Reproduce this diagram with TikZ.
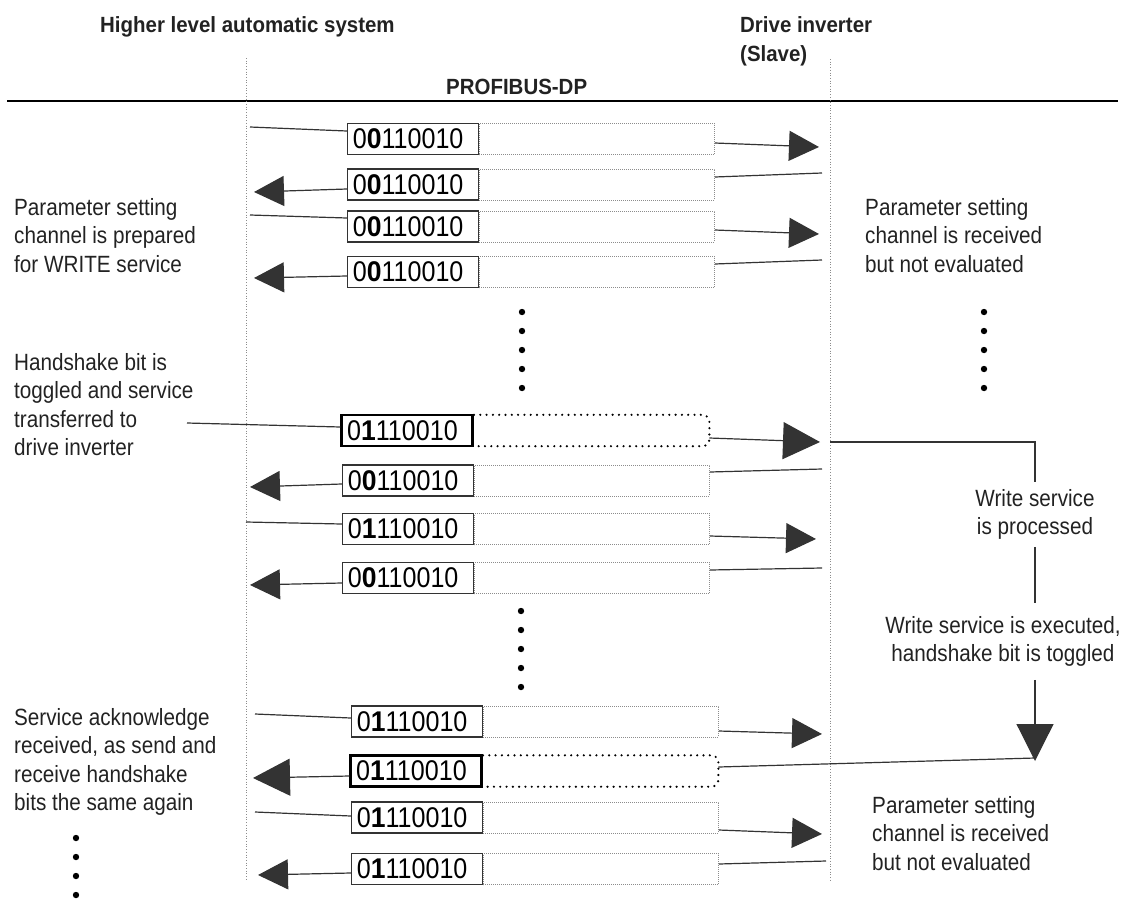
\documentclass[tikz,border=0pt]{standalone}
\usepackage{fontspec}
\setmainfont{Liberation Sans}[FakeStretch=0.88,BoldFeatures={FakeStretch=0.93}]
\usetikzlibrary{arrows.meta,calc}
\definecolor{ink}{HTML}{222222}
\definecolor{linegray}{HTML}{333333}
\definecolor{dotgray}{HTML}{8C8C8C}
\tikzset{
  lbl/.style={inner sep=0pt, align=left, anchor=north west, text=ink,
    font=\fontsize{23.5}{28.5}\selectfont},
  hdr/.style={inner sep=0pt, align=left, text=ink,
    font=\fontsize{22}{29}\selectfont\bfseries},
  bitbox/.style={draw=linegray, line width=1.2pt, fill=white, inner xsep=5.5pt,
    inner ysep=0pt, text width=120pt, align=left, minimum height=31pt,
    anchor=east, text=black, font=\fontsize{28.5}{30}\selectfont},
  hotbox/.style={bitbox, draw=black, line width=2.6pt},
  extbox/.style={draw=dotgray, line width=0.8pt, dash pattern=on 0.7pt off 1.3pt,
    minimum width=235pt, minimum height=31pt, inner sep=0pt, anchor=west},
  hotext/.style={minimum width=235pt, minimum height=31pt, inner sep=0pt, anchor=west},
  hotdots/.style={draw=black, line width=2.4pt, dash pattern=on 0pt off 6.3pt,
    line cap=round, rounded corners=7pt},
  conn/.style={draw=linegray, line width=1.2pt},
  arr/.style={conn, -{Triangle[length=30pt,width=30pt]}},
  bigarr/.style={conn, -{Triangle[length=37pt,width=37pt]}},
  divider/.style={draw=dotgray, line width=0.8pt, dash pattern=on 0.7pt off 2pt},
  dot/.style={fill=black}
}
\begin{document}
\begin{tikzpicture}[x=1pt,y=-1pt]
\useasboundingbox (0,0) rectangle (1130,900);

% headings
\node[hdr, anchor=base west] (hsys) at (100,32) {Higher level automatic system};
\node[hdr, anchor=north west] (hdrv) at (740,16) {Drive inverter\\(Slave)};
\node[hdr, anchor=base west] (hbus) at (446,94) {PROFIBUS-DP};
\draw[line width=1.4pt, black] (7,101) -- (1118,101);

% station dividers
\draw[divider] (246,58) -- (246,880);
\draw[divider] (830,59) -- (830,881);

% side notes
\node[lbl] (pl) at (14,198.2) {Parameter setting\\channel is prepared\\for WRITE service};
\node[lbl] (hs) at (14,353.2) {Handshake bit is\\toggled and service\\transferred to\\drive inverter};
\node[lbl] (sa) at (14,708.2) {Service acknowledge\\received, as send and\\receive handshake\\bits the same again};
\node[lbl] (pr1) at (865,198.2) {Parameter setting\\channel is received\\but not evaluated};
\node[lbl] (pr2) at (872,796.2) {Parameter setting\\channel is received\\but not evaluated};

% ---- telegrams, first group ----
\node[extbox] (e1) at (479,139) {};
\node[bitbox] (b1) at (e1.west) {0\textbf{0}110010};
\node[extbox] (e2) at (479,184.5) {};
\node[bitbox] (b2) at (e2.west) {0\textbf{0}110010};
\node[extbox] (e3) at (479,226.5) {};
\node[bitbox] (b3) at (e3.west) {0\textbf{0}110010};
\node[extbox] (e4) at (479,272) {};
\node[bitbox] (b4) at (e4.west) {0\textbf{0}110010};

\coordinate (s1) at (250,127);  \coordinate (t1) at (819,147);
\coordinate (s2) at (822,173);  \coordinate (t2) at (254,192);
\coordinate (s3) at (250,215);  \coordinate (t3) at (819,234);
\coordinate (s4) at (822,260);  \coordinate (t4) at (254,278);
\draw[conn] (s1) -- ($(b1.west)+(0,-8)$);
\draw[arr] ($(e1.east)+(0,4)$) -- (t1);
\draw[conn] (s2) -- ($(e2.east)+(0,-7.5)$);
\draw[arr] ($(b2.west)+(0,4.5)$) -- (t2);
\draw[conn] (s3) -- ($(b3.west)+(0,-8.5)$);
\draw[arr] ($(e3.east)+(0,3.5)$) -- (t3);
\draw[conn] (s4) -- ($(e4.east)+(0,-8)$);
\draw[arr] ($(b4.west)+(0,4)$) -- (t4);

% ---- telegrams, second group ----
\node[hotext] (e5) at (474,430.5) {};
\draw[hotdots] (e5.north west) -- (e5.north east) -- (e5.south east) -- (e5.south west);
\node[hotbox] (b5) at (e5.west) {0\textbf{1}110010};
\node[extbox] (e6) at (474,480.5) {};
\node[bitbox] (b6) at (e6.west) {0\textbf{0}110010};
\node[extbox] (e7) at (474,529) {};
\node[bitbox] (b7) at (e7.west) {0\textbf{1}110010};
\node[extbox] (e8) at (474,578) {};
\node[bitbox] (b8) at (e8.west) {0\textbf{0}110010};

\coordinate (s5) at (187,423);  \coordinate (t5) at (820,442);
\coordinate (s6) at (822,469);  \coordinate (t6) at (250,487);
\coordinate (s7) at (246,522);  \coordinate (t7) at (816,539);
\coordinate (s8) at (822,568);  \coordinate (t8) at (250,585);
\draw[conn] (s5) -- ($(b5.west)+(0,-3.5)$);
\draw[bigarr] ($(e5.east)+(0,7.5)$) -- (t5);
\draw[conn] (s6) -- ($(e6.east)+(0,-8.5)$);
\draw[arr] ($(b6.west)+(0,3.5)$) -- (t6);
\draw[conn] (s7) -- ($(b7.west)+(0,-5)$);
\draw[arr] ($(e7.east)+(0,7)$) -- (t7);
\draw[conn] (s8) -- ($(e8.east)+(0,-8)$);
\draw[arr] ($(b8.west)+(0,5)$) -- (t8);

% ---- processing in the drive inverter ----
\coordinate (c5) at (830,442);
\node[lbl, anchor=north, align=center, inner xsep=0pt, inner ysep=7pt] (wsp) at (1035,482)
  {Write service\\is processed};
\node[lbl, anchor=north, align=center, inner xsep=0pt, inner ysep=13pt] (wse) at (1003,603)
  {Write service is executed,\\handshake bit is toggled};
\coordinate (wt) at (1035,761);
\draw[conn] (c5) -| (wsp.north);
\draw[conn] (wsp.south) -- (wsp.south |- wse.north);
\draw[bigarr] (wsp.south |- wse.south) -- (wt);

% ---- telegrams, third group ----
\node[extbox] (e9) at (483,721.5) {};
\node[bitbox] (b9) at (e9.west) {0\textbf{1}110010};
\node[hotext] (e10) at (483,771) {};
\draw[hotdots] (e10.north west) -- (e10.north east) -- (e10.south east) -- (e10.south west);
\node[hotbox] (b10) at (e10.west) {0\textbf{1}110010};
\node[extbox] (e11) at (483,817.5) {};
\node[bitbox] (b11) at (e11.west) {0\textbf{1}110010};
\node[extbox] (e12) at (483,869) {};
\node[bitbox] (b12) at (e12.west) {0\textbf{1}110010};

\coordinate (s9) at (255,714);   \coordinate (t9) at (822,734);
\coordinate (t10) at (253,778);
\coordinate (s11) at (255,812);  \coordinate (t11) at (822,834);
\coordinate (s12) at (826,861);  \coordinate (t12) at (258,875);
\draw[conn] (s9) -- ($(b9.west)+(0,-3.5)$);
\draw[arr] ($(e9.east)+(0,9.5)$) -- (t9);
\draw[conn] ($(wt)+(0,-3)$) -- ($(e10.east)+(0,-4)$);
\draw[bigarr] ($(b10.west)+(0,5)$) -- (t10);
\draw[conn] (s11) -- ($(b11.west)+(0,-1.5)$);
\draw[arr] ($(e11.east)+(0,12.5)$) -- (t11);
\draw[conn] (s12) -- ($(e12.east)+(0,-5)$);
\draw[arr] ($(b12.west)+(0,4)$) -- (t12);

% continuation dots
\foreach \yy in {312,331,350,369,388} {
  \fill[dot] (522,\yy) circle (3.2pt);
  \fill[dot] (984,\yy) circle (3.2pt);
}
\foreach \yy in {611,630,649,668,687} {
  \fill[dot] (521,\yy) circle (3.2pt);
}
\foreach \yy in {838,857,876,895} {
  \fill[dot] (76,\yy) circle (3.2pt);
}
\end{tikzpicture}
\end{document}
